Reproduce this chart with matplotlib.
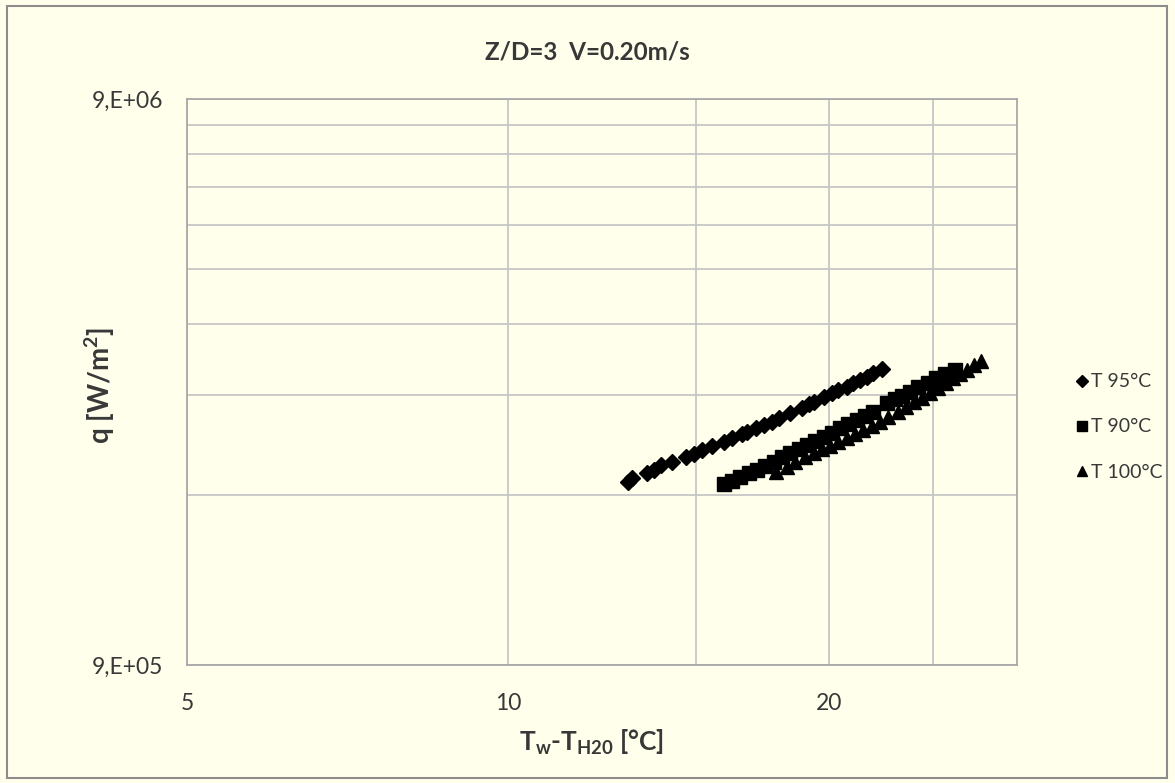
import matplotlib
matplotlib.use("Agg")
import matplotlib.pyplot as plt
from matplotlib.patches import Rectangle
from matplotlib.ticker import FixedLocator, NullFormatter

plt.rcParams["font.family"]=["Lato","DejaVu Sans"]
plt.rcParams["mathtext.fontset"]="custom"; plt.rcParams["mathtext.rm"]="Lato"; plt.rcParams["mathtext.bf"]="Lato:bold"

labels=["T 95°C","T 90°C","T 100°C"]
x95=[12.96,13.08,13.51,13.70,13.90,14.25,14.67,14.93,15.20,15.53,15.93,16.22,16.57,16.75,17.06,17.36,17.68,17.93,18.39,18.85,19.13,19.34,19.76,20.11,20.40,20.77,21.07,21.38,21.69,22.00,22.40]
q95=[1.897e6,1.923e6,1.963e6,1.990e6,2.031e6,2.058e6,2.095e6,2.123e6,2.158e6,2.193e6,2.232e6,2.263e6,2.303e6,2.325e6,2.358e6,2.389e6,2.422e6,2.456e6,2.513e6,2.558e6,2.600e6,2.627e6,2.675e6,2.718e6,2.755e6,2.792e6,2.831e6,2.869e6,2.908e6,2.948e6,2.997e6]
x90=[15.93,16.22,16.51,16.81,17.11,17.43,17.74,18.06,18.39,18.72,19.06,19.41,19.76,20.11,20.48,20.85,21.23,21.61,22.00,22.64,23.05,23.38,23.81,24.24,24.77,25.21,25.67,26.23]
q90=[1.879e6,1.905e6,1.936e6,1.963e6,1.990e6,2.022e6,2.058e6,2.095e6,2.129e6,2.164e6,2.203e6,2.242e6,2.279e6,2.316e6,2.358e6,2.399e6,2.438e6,2.479e6,2.523e6,2.610e6,2.653e6,2.689e6,2.736e6,2.785e6,2.838e6,2.889e6,2.940e6,2.989e6]
x100=[17.84,18.26,18.59,18.99,19.34,19.68,20.04,20.40,20.77,21.15,21.53,21.92,22.32,22.72,23.22,23.62,24.03,24.45,24.87,25.30,25.74,26.14,26.53,26.93,27.34,27.76]
q100=[1.976e6,2.016e6,2.058e6,2.100e6,2.129e6,2.164e6,2.193e6,2.232e6,2.269e6,2.303e6,2.342e6,2.380e6,2.422e6,2.466e6,2.523e6,2.572e6,2.619e6,2.672e6,2.722e6,2.777e6,2.834e6,2.887e6,2.940e6,2.989e6,3.044e6,3.100e6]
xticks=[5,10,20]; xminor=[15,25]; yticks=[9e5,9e6]; yticklabels=["9,E+05","9,E+06"]

bg="#FFFFEB"; grid="#C6C6C6"; txt="#383838"
fig=plt.figure(figsize=(11.75,7.83),dpi=100,facecolor=bg)
fig.patches.append(Rectangle((7/1175,5/783),1160/1175,772/783,transform=fig.transFigure,fill=False,ec="#8C8C8C",lw=1.5))
ax=fig.add_axes([187/1175,118/783,830/1175,566/783],facecolor=bg)
ax.set_xscale("log"); ax.set_yscale("log"); ax.set_xlim(5,30); ax.set_ylim(9e5,9e6)
ms=dict(color="black",ls="none")
h1,=ax.plot(x95,q95,marker="D",ms=8,**ms)
h2,=ax.plot(x90,q90,marker="s",ms=9.5,**ms)
h3,=ax.plot(x100,q100,marker="^",ms=10,**ms)
ax.xaxis.set_major_locator(FixedLocator(xticks)); ax.set_xticklabels([str(v) for v in xticks])
ax.xaxis.set_minor_locator(FixedLocator(xminor)); ax.xaxis.set_minor_formatter(NullFormatter())
ax.yaxis.set_major_locator(FixedLocator(yticks)); ax.set_yticklabels(yticklabels)
ax.yaxis.set_minor_locator(FixedLocator([9e5*k for k in range(2,10)])); ax.yaxis.set_minor_formatter(NullFormatter())
ax.grid(True,which="both",color=grid,lw=1.3); ax.set_axisbelow(True)
ax.tick_params(which="both",length=0,labelsize=16.5,labelcolor=txt)
ax.tick_params(axis="x",pad=20); ax.tick_params(axis="y",pad=17)
for s in ax.spines.values(): s.set_color("#A8A8A8"); s.set_linewidth(1.3)
fig.text(0.5,1-52/783,"Z/D=3  V=0.20m/s",ha="center",va="center",fontsize=17.5,fontweight="bold",color=txt)
fig.text(592/1175,1-742/783,r"$\mathbf{T_{w}}$-$\mathbf{T_{H20}}$ [°C]",ha="center",va="center",fontsize=19,fontweight="bold",color=txt)
fig.text(100/1175,1-385/783,r"q [W/m$\mathbf{^{2}}$]",ha="center",va="center",rotation=90,fontsize=20,fontweight="bold",color=txt)
fig.legend([h1,h2,h3],labels,loc="center left",bbox_to_anchor=(1058/1175,1-427/783),frameon=False,fontsize=14,
    labelspacing=1.45,handlelength=0.7,handletextpad=0.1,markerscale=0.72,labelcolor=txt)
fig.savefig("out.png",dpi=100,facecolor=bg)
